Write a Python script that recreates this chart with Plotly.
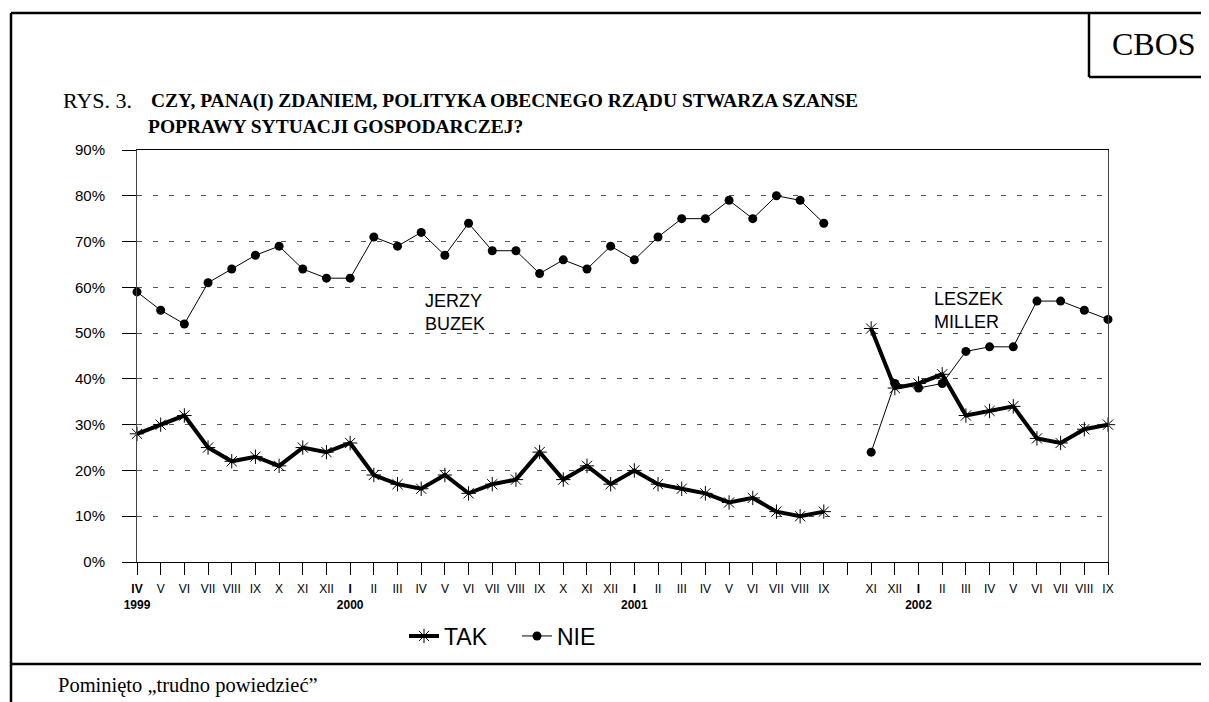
import plotly.graph_objects as go

# months on the x axis; X 2001 has no survey (gap)
months = ["IV 1999", "V 1999", "VI 1999", "VII 1999", "VIII 1999", "IX 1999", "X 1999", "XI 1999", "XII 1999",
          "I 2000", "II 2000", "III 2000", "IV 2000", "V 2000", "VI 2000", "VII 2000", "VIII 2000", "IX 2000",
          "X 2000", "XI 2000", "XII 2000",
          "I 2001", "II 2001", "III 2001", "IV 2001", "V 2001", "VI 2001", "VII 2001", "VIII 2001", "IX 2001",
          "X 2001", "XI 2001", "XII 2001",
          "I 2002", "II 2002", "III 2002", "IV 2002", "V 2002", "VI 2002", "VII 2002", "VIII 2002", "IX 2002"]

tick_labels = ["<b>IV</b><br><b>1999</b>", "V", "VI", "VII", "VIII", "IX", "X", "XI", "XII",
               "<b>I</b><br><b>2000</b>", "II", "III", "IV", "V", "VI", "VII", "VIII", "IX", "X", "XI", "XII",
               "<b>I</b><br><b>2001</b>", "II", "III", "IV", "V", "VI", "VII", "VIII", "IX",
               "", "XI", "XII",
               "<b>I</b><br><b>2002</b>", "II", "III", "IV", "V", "VI", "VII", "VIII", "IX"]

tak = [28, 30, 32, 25, 22, 23, 21, 25, 24,
       26, 19, 17, 16, 19, 15, 17, 18, 24, 18, 21, 17,
       20, 17, 16, 15, 13, 14, 11, 10, 11,
       None, 51, 38,
       39, 41, 32, 33, 34, 27, 26, 29, 30]

nie = [59, 55, 52, 61, 64, 67, 69, 64, 62,
       62, 71, 69, 72, 67, 74, 68, 68, 63, 66, 64, 69,
       66, 71, 75, 75, 79, 75, 80, 79, 74,
       None, 24, 39,
       38, 39, 46, 47, 47, 57, 57, 55, 53]

y_ticks = [0, 10, 20, 30, 40, 50, 60, 70, 80, 90]

# page pixels (the page body has an 8px margin)
OFF = 8
L, R, T, B = 137, 1108, 150, 562
W, H = 1209 - OFF, 702 - OFF


def px(x):
    return (x - L) / (R - L)


def py(y):
    return (B - y) / (B - T)


fig = go.Figure()

fig.add_trace(go.Scatter(
    x=months, y=tak, name="TAK", mode="lines+markers",
    line=dict(color="black", width=4),
    marker=dict(symbol="asterisk-open", size=12, color="black", line=dict(color="black", width=1)),
    cliponaxis=False,
))
fig.add_trace(go.Scatter(
    x=months, y=nie, name="NIE", mode="lines+markers",
    line=dict(color="black", width=1),
    marker=dict(symbol="circle", size=9, color="black"),
    cliponaxis=False,
))

# page frame
frame = dict(color="black", width=2.5)
shapes = [
    dict(type="line", x0=px(11), x1=px(1215), y0=py(13), y1=py(13)),
    dict(type="line", x0=px(11), x1=px(11), y0=py(13), y1=py(710)),
    dict(type="line", x0=px(11), x1=px(1215), y0=py(664), y1=py(664)),
    dict(type="line", x0=px(1089), x1=px(1089), y0=py(13), y1=py(77)),
    dict(type="line", x0=px(1089), x1=px(1215), y0=py(77), y1=py(77)),
]
for s in shapes:
    s.update(xref="paper", yref="paper", line=frame)

serif = "Liberation Serif, Times New Roman, serif"
sans = "Liberation Sans, Arial, sans-serif"

annotations = [
    dict(text="CBOS", x=px(1154), y=py(44), xanchor="center",
         font=dict(family=serif, size=32)),
    dict(text="RYS. 3.", x=px(61), y=py(101), xanchor="left",
         font=dict(family=serif, size=22)),
    dict(text="<b>CZY, PANA(I) ZDANIEM, POLITYKA OBECNEGO RZĄDU STWARZA SZANSE</b>", x=px(149), y=py(101),
         xanchor="left", font=dict(family=serif, size=19.5)),
    dict(text="<b>POPRAWY SYTUACJI GOSPODARCZEJ?</b>", x=px(146), y=py(126),
         xanchor="left", font=dict(family=serif, size=19.5)),
    dict(text="JERZY<br>BUZEK", x=px(423), y=py(312), xanchor="left", align="left",
         font=dict(family=sans, size=18)),
    dict(text="LESZEK<br>MILLER", x=px(932), y=py(310), xanchor="left", align="left",
         font=dict(family=sans, size=18)),
    dict(text="Pominięto „trudno powiedzieć”", x=px(56), y=py(685), xanchor="left",
         font=dict(family=serif, size=20.5)),
]
for a in annotations:
    a.update(xref="paper", yref="paper", showarrow=False, yanchor="middle")
    a["font"]["color"] = "black"

fig.update_layout(
    width=W, height=H,
    margin=dict(l=L - OFF, r=W - (R - OFF), t=T - OFF, b=H - (B - OFF), pad=0),
    paper_bgcolor="white", plot_bgcolor="white",
    font=dict(family=sans, color="black"),
    showlegend=True,
    legend=dict(orientation="h", x=px(404), xanchor="left", y=py(636), yanchor="middle",
                font=dict(family=sans, size=23), itemwidth=30, entrywidth=68,
                bgcolor="rgba(0,0,0,0)"),
    shapes=shapes,
    annotations=annotations,
)

fig.update_xaxes(
    type="category", categoryorder="array", categoryarray=months,
    tickvals=months, ticktext=tick_labels,
    range=[0, len(months) - 1],
    showgrid=False, showline=True, linecolor="black", linewidth=1, mirror=True,
    ticks="outside", ticklen=12, tickcolor="black", ticklabelstandoff=4,
    tickfont=dict(family=sans, size=12), tickangle=0,
)
fig.update_yaxes(
    range=[0, 90], tickvals=y_ticks, ticktext=[f"{v}%" for v in y_ticks],
    showgrid=True, gridcolor="#555555", griddash="5px,11px", gridwidth=1,
    showline=True, linecolor="#444444", linewidth=1, mirror=True,
    ticks="outside", ticklen=14, tickcolor="black", ticklabelstandoff=14,
    tickfont=dict(family=sans, size=15), zeroline=False,
)

fig.write_html("out.html")
